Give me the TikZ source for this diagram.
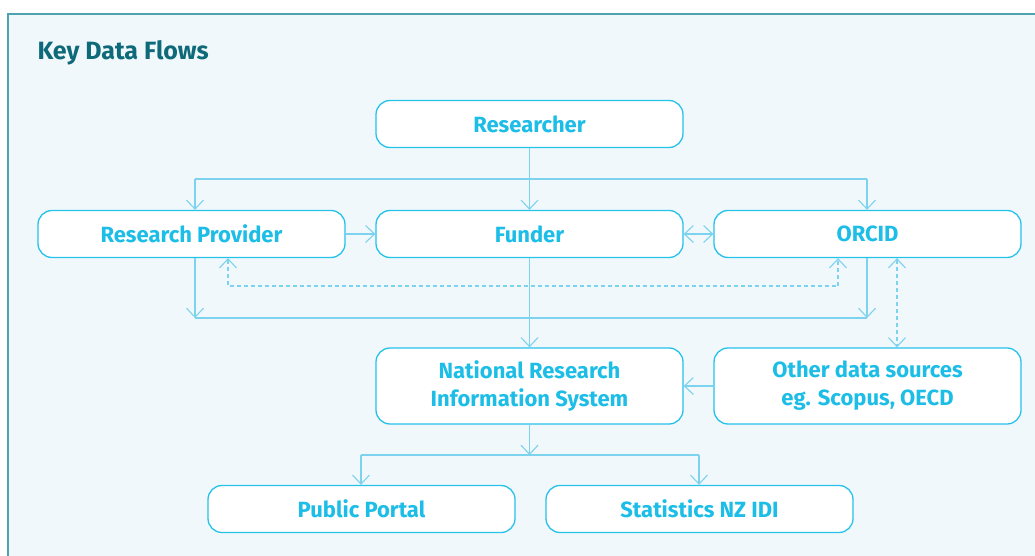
\documentclass[tikz,border=0pt]{standalone}
\usepackage{fontspec}
\setmainfont{Fira Sans}
\usetikzlibrary{arrows.meta}
\definecolor{panelbg}{HTML}{F0F8FC}
\definecolor{panelline}{HTML}{4FA3AE}
\definecolor{titlecol}{HTML}{0E6A78}
\definecolor{boxcol}{HTML}{25C2EA}
\definecolor{textcol}{HTML}{1CBDE6}
\definecolor{flowcol}{HTML}{7DD3EE}
\tikzset{
  box/.style={draw=boxcol, line width=1.3pt, fill=white, rounded corners=14pt,
    minimum width=307pt, minimum height=47pt, inner sep=0pt,
    text=textcol, font=\fontsize{22}{28}\selectfont\bfseries, align=center},
  tall/.style={minimum height=76pt},
  flow/.style={draw=flowcol, line width=1.1pt},
  arr/.style={flow, -{Straight Barb[length=9pt,width=17pt,line width=1.1pt]}},
  darr/.style={flow, {Straight Barb[length=9pt,width=17pt,line width=1.1pt]}-{Straight Barb[length=9pt,width=17pt,line width=1.1pt]}},
  dashline/.style={dash pattern=on 4pt off 3pt},
}
\begin{document}
\begin{tikzpicture}[x=1pt,y=-1pt]
\useasboundingbox (0,0) rectangle (1035,556);
\fill[panelbg] (8,14) rectangle (1040,560);
\draw[panelline, line width=1.5pt] (8,560) -- (8,14) -- (1040,14);
\node[anchor=west, text=titlecol, font=\fontsize{25}{30}\selectfont\bfseries] (title) at (34,53) {Key Data Flows};

\node[box] (res) at (529.5,124) {Researcher};
\node[box] (rp) at (191.5,234) {Research Provider};
\node[box] (fund) at (529.5,234) {Funder};
\node[box] (orcid) at (867.5,234) {ORCID};
\node[box, tall] (nris) at (529.5,386) {National Research\\Information System};
\node[box, tall] (other) at (867.5,386) {Other data sources\\eg. Scopus, OECD};
\node[box] (pp) at (361.5,509) {Public Portal};
\node[box] (stats) at (699.5,509) {Statistics NZ IDI};

% researcher distribution
\coordinate (ta) at (195,179);
\coordinate (tb) at (867,179);
\draw[flow] (ta) -- (tb);
\draw[arr] (res.south) -- (fund.north);
\draw[arr] (ta) -- (ta |- rp.north);
\draw[arr] (tb) -- (tb |- orcid.north);

% side arrows
\draw[arr] (rp.east) -- (fund.west);
\draw[darr] (fund.east) -- (orcid.west);

% lower collection
\coordinate (ba) at (195,318);
\coordinate (bb) at (867,318);
\draw[flow] (ba) -- (bb);
\draw[arr] (ba |- rp.south) -- (ba);
\draw[arr] (bb |- orcid.south) -- (bb);
\draw[arr] (fund.south) -- (nris.north);

% dashed
\coordinate (da) at (228,286);
\coordinate (db) at (838,286);
\draw[darr, dashline] (da |- rp.south) -- (da) -- (db) -- (db |- orcid.south);
\coordinate (dc) at (897,300);
\draw[darr, dashline] (dc |- orcid.south) -- (dc |- other.north);

\draw[arr] (other.west) -- (nris.east);

% to outputs
\coordinate (oa) at (361,455);
\coordinate (ob) at (699,455);
\coordinate (om) at (529.5,455);
\draw[flow] (oa) -- (ob);
\draw[arr] (nris.south) -- (om);
\draw[arr] (oa) -- (oa |- pp.north);
\draw[arr] (ob) -- (ob |- stats.north);
\end{tikzpicture}
\end{document}
